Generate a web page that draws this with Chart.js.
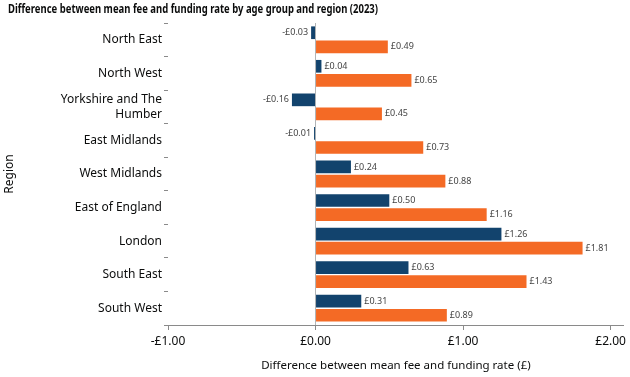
<!DOCTYPE html>
<html>
<head>
<meta charset="utf-8">
<script src="https://cdn.jsdelivr.net/npm/chart.js@4.4.0/dist/chart.umd.min.js"></script>
<style>
  html, body { margin: 0; padding: 0; background: #fff; }
  #wrap { width: 630px; height: 377px; position: relative; }
</style>
</head>
<body>
<div id="wrap"><canvas id="feeChart"></canvas></div>
<script>
// Regions (top to bottom)
const regions = [
    'North East', 'North West', ['Yorkshire and The', 'Humber'], 'East Midlands',
    'West Midlands', 'East of England', 'London', 'South East', 'South West'
];

// Difference between mean fee and funding rate (£) per age group
const youngerValues = [-0.03, 0.04, -0.16, -0.01, 0.24, 0.50, 1.26, 0.63, 0.31];
const olderValues = [0.49, 0.65, 0.45, 0.73, 0.88, 1.16, 1.81, 1.43, 0.89];

const xTicks = [-1, 0, 1, 2];

const chartTitle = 'Difference between mean fee and funding rate by age group and region (2023)';

const FONT = '"Noto Sans", sans-serif';
const TEXT = '#0b0c0c';

function formatPounds(v) {
    const sign = v < 0 ? '-' : '';
    return sign + '£' + Math.abs(v).toFixed(2);
}

// Draw the value next to the end of each bar
const barLabels = {
    id: 'barLabels',
    afterDatasetsDraw(chart) {
        const ctx = chart.ctx;
        ctx.save();
        ctx.font = '9px ' + FONT;
        ctx.fillStyle = '#444';
        ctx.textBaseline = 'middle';
        chart.data.datasets.forEach((ds, i) => {
            chart.getDatasetMeta(i).data.forEach((bar, j) => {
                const v = ds.data[j];
                if (v < 0) {
                    ctx.textAlign = 'right';
                    ctx.fillText(formatPounds(v), bar.x - 3, bar.y);
                } else {
                    ctx.textAlign = 'left';
                    ctx.fillText(formatPounds(v), bar.x + 3, bar.y);
                }
            });
        });
        ctx.restore();
    }
};

// Title drawn by hand so it can be squeezed to the narrower original width
const narrowTitle = {
    id: 'narrowTitle',
    afterDraw(chart) {
        const ctx = chart.ctx;
        ctx.save();
        ctx.font = 'bold 12px ' + FONT;
        ctx.fillStyle = TEXT;
        ctx.textAlign = 'left';
        ctx.textBaseline = 'middle';
        ctx.fillText(chartTitle, 8, 10, 370);
        ctx.restore();
    }
};

new Chart(document.getElementById('feeChart'), {
    type: 'bar',
    data: {
        labels: regions,
        datasets: [{
            label: 'Younger age group',
            data: youngerValues,
            backgroundColor: '#12436D',
            categoryPercentage: 0.84,
            barPercentage: 0.9
        }, {
            label: 'Older age group',
            data: olderValues,
            backgroundColor: '#F46A25',
            categoryPercentage: 0.84,
            barPercentage: 0.9
        }]
    },
    options: {
        indexAxis: 'y',
        responsive: true,
        maintainAspectRatio: false,
        animation: false,
        layout: { padding: { top: 23, right: 2, left: 8, bottom: 0 } },
        plugins: {
            legend: { display: false },
            tooltip: { enabled: false },
            title: { display: false }
        },
        scales: {
            x: {
                min: -1,
                max: 2.09,
                afterBuildTicks(axis) {
                    axis.ticks = xTicks.map(v => ({ value: v }));
                },
                afterFit(axis) {
                    axis.height = 52;
                },
                grid: {
                    color: c => (c.tick && c.tick.value === 0 ? '#b1b4b6' : 'transparent'),
                    tickColor: '#8a8a8a',
                    tickLength: 5,
                    drawOnChartArea: true
                },
                border: { display: true, color: '#8a8a8a' },
                ticks: {
                    color: TEXT,
                    font: { family: FONT, size: 12 },
                    padding: 4,
                    callback: v => formatPounds(v)
                },
                title: {
                    display: true,
                    text: 'Difference between mean fee and funding rate (£)',
                    color: TEXT,
                    font: { family: FONT, size: 11.5 },
                    padding: { top: 0, bottom: 4 }
                }
            },
            y: {
                afterFit(axis) {
                    axis.width = 160;
                },
                grid: {
                    drawOnChartArea: false,
                    tickColor: '#8a8a8a',
                    tickLength: 4
                },
                border: { display: false },
                ticks: {
                    color: TEXT,
                    font: { family: FONT, size: 12 },
                    padding: 2
                },
                title: {
                    display: true,
                    text: 'Region',
                    color: TEXT,
                    font: { family: FONT, size: 12 },
                    padding: { top: -6, bottom: 0 }
                }
            }
        }
    },
    plugins: [barLabels, narrowTitle]
});
</script>
</body>
</html>
